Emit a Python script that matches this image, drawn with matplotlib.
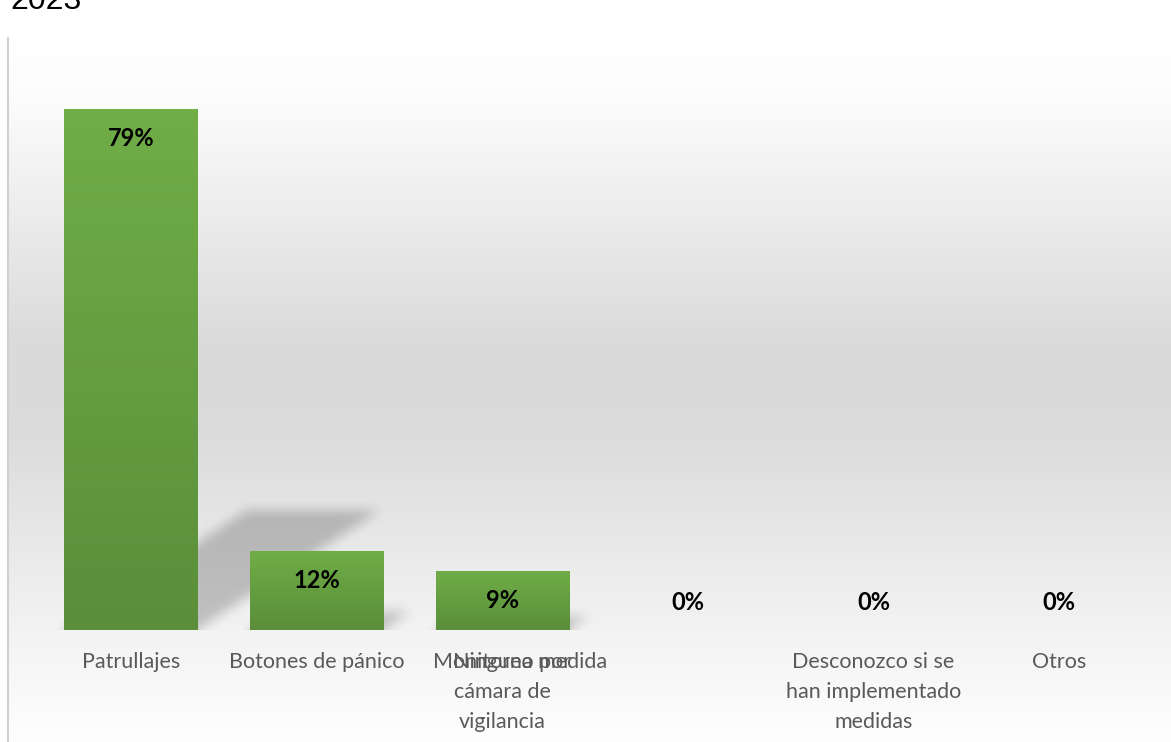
import numpy as np
import matplotlib.pyplot as plt
from matplotlib.transforms import ScaledTranslation

categorias = ['Patrullajes', 'Botones de pánico', 'Monitoreo por\ncámara de\nvigilancia',
              'Ninguna medida', 'Desconozco si se\nhan implementado\nmedidas', 'Otros']
valores = [79, 12, 9, 0, 0, 0]
titulo = '2023'

W, H = 1171, 742
fig = plt.figure(figsize=(W / 100, H / 100), dpi=100)

# fondo degradado del area del grafico
bg = fig.add_axes([8 / W, 0, 1 - 8 / W, 1 - 38 / H])
bg.set_zorder(0)
t = np.linspace(0, 1, 300)
prof = np.interp(t, [0, 0.08, 0.44, 0.56, 0.85, 1.0], [1.0, 0.99, 0.855, 0.86, 0.955, 0.995])
img = np.repeat(prof[:, None, None], 3, axis=2).repeat(2, axis=1)
bg.imshow(img, aspect='auto', extent=[0, 1, 0, 1], origin='upper')
bg.set_xlim(0, 1)
bg.set_ylim(0, 1)
bg.set_xticks([])
bg.set_yticks([])
for s in ['top', 'right', 'bottom']:
    bg.spines[s].set_visible(False)
bg.spines['left'].set_color('#d0d0d0')
bg.spines['left'].set_linewidth(1.5)

# area de trazado
x0, x1 = 38, 1152
ybase, ytop = 630, 40
ppu = 6.6
ax = fig.add_axes([x0 / W, 1 - ybase / H, (x1 - x0) / W, (ybase - ytop) / H])
ax.set_zorder(1)
ax.patch.set_visible(False)
n = len(categorias)
x = np.arange(n)
xlim = (-0.5, n - 0.5)
ylim = (0, (ybase - ytop) / ppu)
pxu = (x1 - x0) / n
w = 0.717


def blur(a, r):
    k = np.ones(2 * r + 1) / (2 * r + 1)
    for _ in range(3):
        a = np.apply_along_axis(lambda m: np.convolve(m, k, mode='same'), 0, a)
        a = np.apply_along_axis(lambda m: np.convolve(m, k, mode='same'), 1, a)
    return a


# sombras en perspectiva difuminadas
for xi, v in zip(x, valores):
    if v <= 0:
        continue
    sh = 0.23 * v
    dx = 0.35 * v * ppu / pxu
    ex0, ex1 = xi - w / 2 - 0.15, xi + w / 2 + dx + 0.15
    ey0, ey1 = -2.5, sh + 3.0
    nx = int((ex1 - ex0) * pxu)
    ny = int((ey1 - ey0) * ppu)
    X, Y = np.meshgrid(np.linspace(ex0, ex1, nx), np.linspace(ey1, ey0, ny))
    off = dx * np.clip(Y, 0, None) / sh
    m = ((Y <= sh) & (X >= xi - w / 2 + off) & (X <= xi + w / 2 + off)).astype(float)
    m = blur(m, 5)
    rgba = np.zeros((ny, nx, 4))
    rgba[..., 3] = 0.21 * m
    ax.imshow(rgba, aspect='auto', extent=[ex0, ex1, ey0, ey1], zorder=1,
              interpolation='bilinear')

bars = ax.bar(x, valores, width=w, color='#6aa544', zorder=2)
grad = np.linspace(0, 1, 100).reshape(-1, 1)
top_c = np.array([0x70, 0xad, 0x47]) / 255
bot_c = np.array([0x5a, 0x8e, 0x3a]) / 255
gimg = top_c[None, None, :] * (1 - grad[:, :, None]) + bot_c[None, None, :] * grad[:, :, None]
for b, v in zip(bars, valores):
    if v <= 0:
        continue
    im = ax.imshow(gimg, aspect='auto', origin='upper', zorder=3,
                   extent=[b.get_x(), b.get_x() + b.get_width(), 0, v])
    im.set_clip_path(b)
ax.set_xlim(*xlim)
ax.set_ylim(*ylim)

for xi, v in zip(x, valores):
    ax.text(xi, max(v - 4.5, 4.1), f'{v}%', ha='center', va='center',
            fontsize=17, fontweight='bold', family='Lato', color='black', zorder=4)

ax.set_yticks([])
ax.set_xticks(x)
ax.set_xticklabels(categorias, fontsize=15.5, family='Lato', color='#595959',
                   linespacing=1.62)
ax.tick_params(axis='x', length=0, pad=16)
for s in ['top', 'right', 'left', 'bottom']:
    ax.spines[s].set_visible(False)

# etiqueta desplazada como en el original
lab = ax.get_xticklabels()[3]
lab.set_transform(lab.get_transform() + ScaledTranslation(-158 / 100, 0, fig.dpi_scale_trans))

fig.text(10 / W, 1 - 9 / H, titulo, fontsize=23, family='Liberation Sans',
         va='baseline', ha='left', color='black')

fig.savefig('out.png', dpi=100)
